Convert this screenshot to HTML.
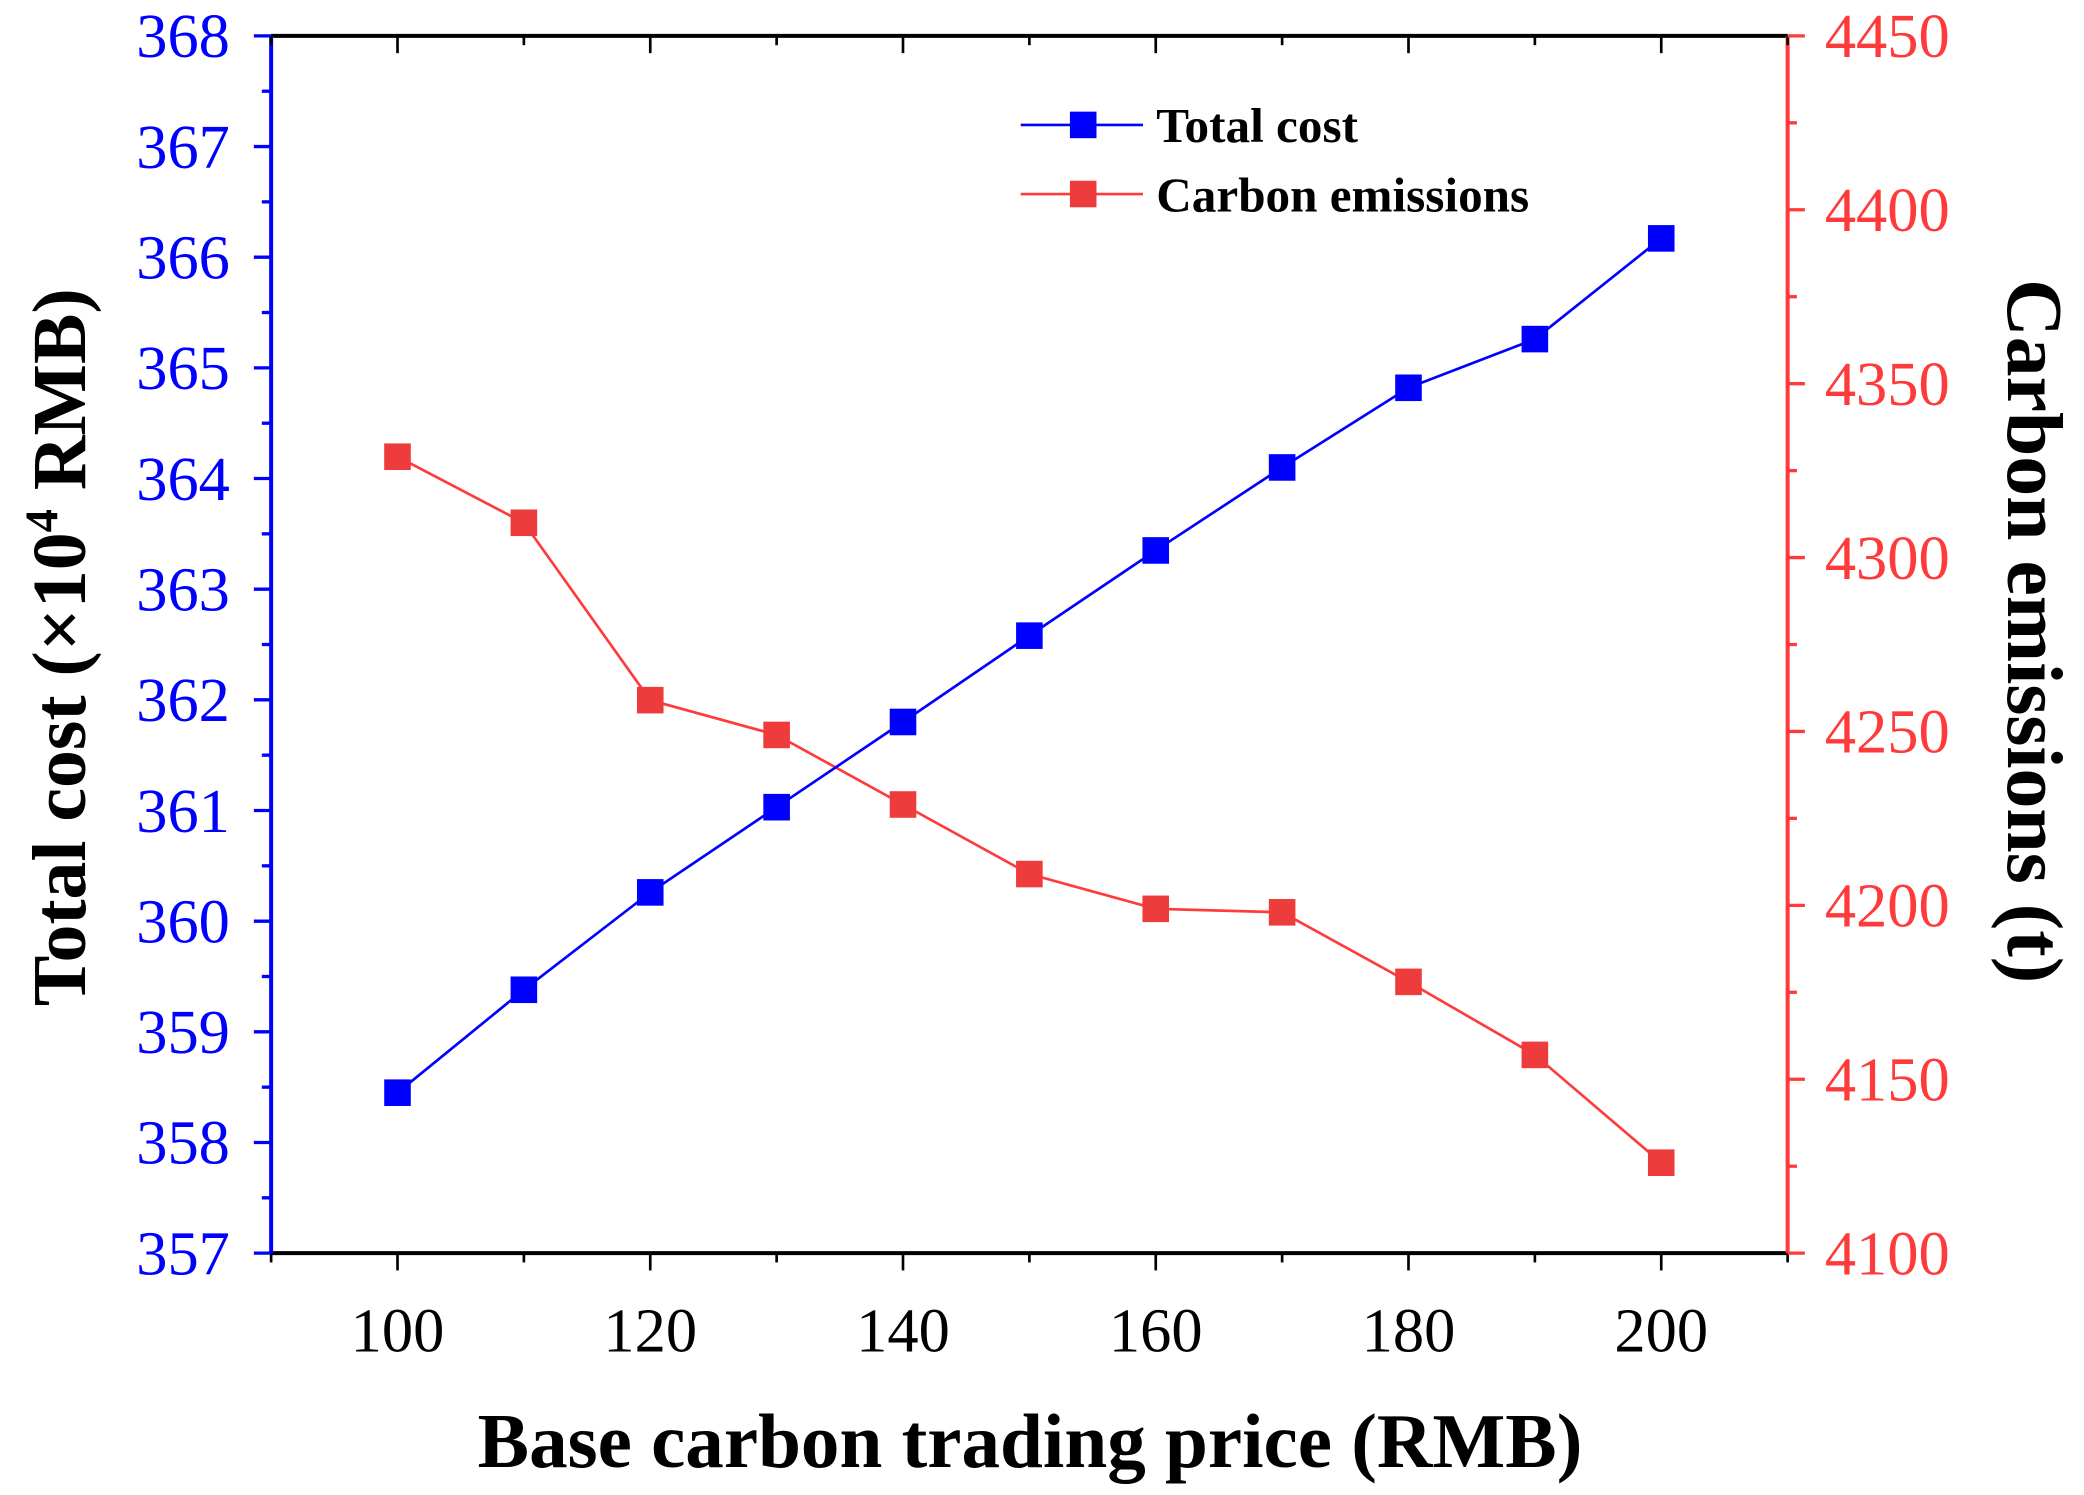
<!DOCTYPE html>
<html><head><meta charset="utf-8"><style>
html,body{margin:0;padding:0;background:#fff;}
svg{display:block;}
</style></head><body>
<svg id="chart" width="2084" height="1495" viewBox="0 0 1568 1125" preserveAspectRatio="none" xmlns="http://www.w3.org/2000/svg" font-family="'Liberation Serif', serif">
<g id="axes"></g>
<g id="series"></g>
<g id="legend">
  <line x1="768" y1="94" x2="860" y2="94" stroke="#0000ff" stroke-width="2"/>
  <rect x="805" y="84" width="20" height="20" fill="#0000ff"/>
  <text x="870" y="107" font-size="37" font-weight="bold" fill="#000">Total cost</text>
  <line x1="768" y1="146" x2="860" y2="146" stroke="#ff3a3a" stroke-width="2"/>
  <rect x="805" y="136" width="20" height="20" fill="#ee3b3b"/>
  <text x="870" y="159" font-size="37" font-weight="bold" fill="#000">Carbon emissions</text>
</g>
<text x="775" y="1104" text-anchor="middle" font-size="58" font-weight="bold" fill="#000">Base carbon trading price (RMB)</text>
<text transform="translate(64,487) rotate(-90)" text-anchor="middle" font-size="57" font-weight="bold" fill="#000">Total cost (×10<tspan dy="-21" font-size="35">4</tspan><tspan dy="21"> RMB)</tspan></text>
<text transform="translate(1511,475) rotate(90)" text-anchor="middle" font-size="60" font-weight="bold" fill="#000">Carbon emissions (t)</text>
</svg>
<script>
const xValues = [100,110,120,130,140,150,160,170,180,190,200];
const totalCost = [358.45,359.38,360.26,361.03,361.80,362.58,363.35,364.10,364.82,365.26,366.17];
const carbonEmissions = [4329,4310,4259,4249,4229,4209,4199,4198,4178,4157,4126];
const xTicks = [100,120,140,160,180,200];
const xMinorTicks = [90,110,130,150,170,190,210];
const leftTicks = [357,358,359,360,361,362,363,364,365,366,367,368];
const rightTicks = [4100,4150,4200,4250,4300,4350,4400,4450];

const L=204,R=1345,T=27,B=943;
const xS = v => L + (v-90)/(210-90)*(R-L);
const yL = v => B - (v-357)/(368-357)*(B-T);
const yR = v => B - (v-4100)/(4450-4100)*(B-T);
const NS="http://www.w3.org/2000/svg";
function mk(tag, attrs, parent){const e=document.createElementNS(NS,tag);for(const k in attrs)e.setAttribute(k,attrs[k]);parent.appendChild(e);return e;}
const axes=document.getElementById('axes');
const ser=document.getElementById('series');

let e;
e=mk('line',{x1:L,y1:T,x2:R,y2:T,stroke:'#000','stroke-width':3},axes);


e=mk('line',{x1:L,y1:B,x2:R,y2:B,stroke:'#000','stroke-width':3},axes);


e=mk('line',{x1:L,y1:T,x2:L,y2:B,stroke:'#0000ff','stroke-width':3},axes);


e=mk('line',{x1:R,y1:T,x2:R,y2:B,stroke:'#ff3a3a','stroke-width':3},axes);



xTicks.forEach(v=>{
  const x=xS(v);
  mk('line',{x1:x,y1:B,x2:x,y2:B+13,stroke:'#000','stroke-width':2},axes);
  mk('line',{x1:x,y1:T,x2:x,y2:T+13,stroke:'#000','stroke-width':2},axes);
  const t=mk('text',{x:x,y:B+74,'text-anchor':'middle','font-size':47,fill:'#000'},axes);
  t.textContent=v;
  
  
});
xMinorTicks.forEach(v=>{
  const x=xS(v);
  mk('line',{x1:x,y1:B,x2:x,y2:B+7,stroke:'#000','stroke-width':2},axes);
  mk('line',{x1:x,y1:T,x2:x,y2:T+7,stroke:'#000','stroke-width':2},axes);
});
leftTicks.forEach((v,i)=>{
  const y=yL(v);
  mk('line',{x1:L-13,y1:y,x2:L,y2:y,stroke:'#0000ff','stroke-width':2.5},axes);
  if(i<leftTicks.length-1){const ym=yL(v+0.5);mk('line',{x1:L-7,y1:ym,x2:L,y2:ym,stroke:'#0000ff','stroke-width':2.5},axes);}
  const t=mk('text',{x:L-31,y:y+16,'text-anchor':'end','font-size':47,fill:'#0000ff'},axes);
  t.textContent=v;
  
  
});
rightTicks.forEach((v,i)=>{
  const y=yR(v);
  mk('line',{x1:R,y1:y,x2:R+13,y2:y,stroke:'#ff3a3a','stroke-width':2.5},axes);
  if(i<rightTicks.length-1){const ym=yR(v+25);mk('line',{x1:R,y1:ym,x2:R+7,y2:ym,stroke:'#ff3a3a','stroke-width':2.5},axes);}
  const t=mk('text',{x:R+28,y:y+16,'text-anchor':'start','font-size':47,fill:'#ff3a3a'},axes);
  t.textContent=v;
  
  
});

function drawSeries(vals, yf, lineColor, markColor, name){
  const pts=vals.map((v,i)=>xS(xValues[i])+','+yf(v)).join(' ');
  const pl=mk('polyline',{points:pts,fill:'none',stroke:lineColor,'stroke-width':2},ser);
  
  
  vals.forEach((v,i)=>{
    const r=mk('rect',{x:xS(xValues[i])-10,y:yf(v)-10,width:20,height:20,fill:markColor},ser);
    
    
  });
}
drawSeries(carbonEmissions,yR,'#ff3a3a','#ee3b3b','carbon-emissions');
drawSeries(totalCost,yL,'#0000ff','#0000ff','total-cost');
</script>
</body></html>
